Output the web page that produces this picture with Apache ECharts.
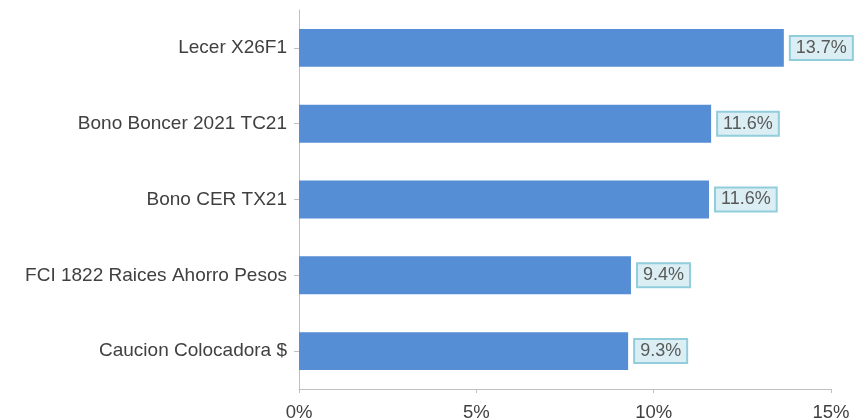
<!DOCTYPE html>
<html><head><meta charset="utf-8">
<script src="https://cdn.jsdelivr.net/npm/echarts@6/dist/echarts.min.js"></script>
<style>html,body{margin:0;padding:0;background:#fff}#c{width:864px;height:418px}</style>
</head><body><div id="c"></div>
<script>
const categories = ["Caucion Colocadora $", "FCI 1822 Raices Ahorro Pesos", "Bono CER TX21", "Bono Boncer 2021 TC21", "Lecer X26F1"];
const values = [9.28, 9.36, 11.56, 11.62, 13.67];
const xTicks = [0, 5, 10, 15];

const FONT = 'Liberation Sans, Arial, sans-serif';
const chart = echarts.init(document.getElementById('c'));
chart.setOption({
  animation: false,
  grid: {left: 299, right: 33, top: 10, bottom: 29, containLabel: false, outerBoundsMode: 'none'},
  xAxis: {
    type: 'value', min: xTicks[0], max: xTicks[xTicks.length-1], interval: 5,
    axisLine: {show: true, lineStyle: {color: '#bfbfbf', width: 1}},
    axisTick: {show: true, length: 4, lineStyle: {color: '#bfbfbf'}},
    splitLine: {show: false},
    axisLabel: {formatter: v => v + '%', color: '#404040', fontSize: 18.5, fontFamily: FONT, margin: 14}
  },
  yAxis: {
    type: 'category', data: categories,
    axisLine: {show: true, lineStyle: {color: '#bfbfbf', width: 1}},
    axisTick: {show: true, alignWithLabel: true, length: 5, lineStyle: {color: '#bfbfbf'}},
    axisLabel: {color: '#404040', fontSize: 19, fontFamily: FONT, margin: 12}
  },
  series: [{
    type: 'bar', data: values, barCategoryGap: '50%',
    itemStyle: {color: '#558ed5'},
    label: {
      show: true, position: 'right', distance: 7,
      formatter: p => p.value.toFixed(1) + '%',
      color: '#595959', fontSize: 18, fontFamily: FONT,
      backgroundColor: '#dbeef4', borderColor: '#92cddc', borderWidth: 2,
      padding: [2, 5, 2, 5]
    }
  }]
});
</script></body></html>
